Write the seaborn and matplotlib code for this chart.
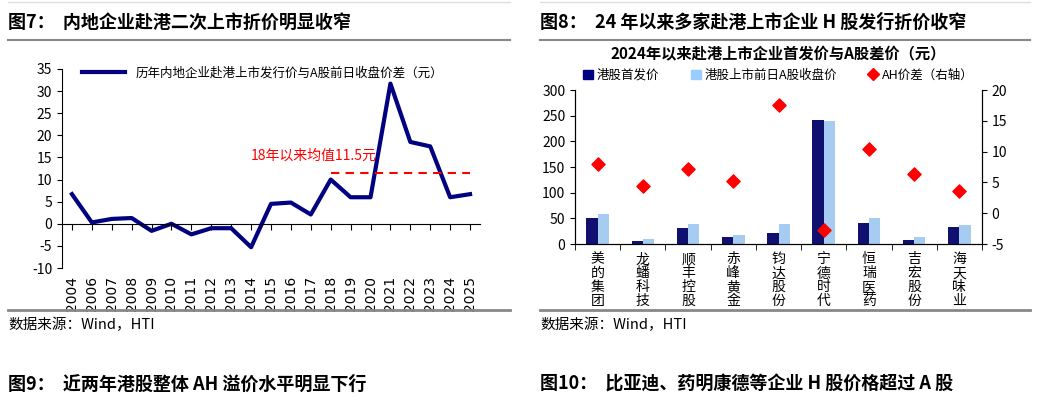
import matplotlib
matplotlib.use("Agg")
import matplotlib.pyplot as plt
import matplotlib.transforms as mtrans
from matplotlib.lines import Line2D
from matplotlib.patches import Patch
import pandas as pd
import seaborn as sns

plt.rcParams["font.family"] = ["Noto Sans CJK SC", "DejaVu Sans"]
plt.rcParams["axes.unicode_minus"] = False

# left panel data
years = ["2004", "2006", "2007", "2008", "2009", "2010", "2011", "2012", "2013", "2014", "2015",
         "2016", "2017", "2018", "2019", "2020", "2021", "2022", "2023", "2024", "2025"]
spread = [6.7, 0.3, 1.1, 1.3, -1.6, 0.0, -2.4, -1.0, -1.0, -5.3, 4.5,
          4.8, 2.1, 10.0, 6.0, 6.0, 31.7, 18.5, 17.5, 6.0, 6.7]
avg_since_2018 = 11.5

# right panel data
companies = ["美的集团", "龙蟠科技", "顺丰控股", "赤峰黄金", "钧达股份", "宁德时代", "恒瑞医药", "吉宏股份", "海天味业"]
h_price = [50, 5, 32, 13, 21, 241, 41, 7, 33]
a_close = [58, 9, 39, 17, 38, 239, 51, 13, 37]
ah_diff = [8.0, 4.4, 7.2, 5.2, 17.6, -2.7, 10.5, 6.3, 3.6]

NAVY = "#000080"
LIGHT = "#99ccff"
RED = "#ff0000"

fig = plt.figure(figsize=(10.37, 4.11), dpi=100)
W, H = 1037, 411

# titles and rules
fig.text(8 / W, 1 - 22 / H, "图7：  内地企业赴港二次上市折价明显收窄", fontsize=13, fontweight="bold", va="center")
fig.text(540 / W, 1 - 22 / H, "图8：  24 年以来多家赴港上市企业 H 股发行折价收窄", fontsize=13, fontweight="bold", va="center")
fig.text(8 / W, 1 - 384 / H, "图9：  近两年港股整体 AH 溢价水平明显下行", fontsize=13, fontweight="bold", va="center")
fig.text(540 / W, 1 - 384 / H, "图10：  比亚迪、药明康德等企业 H 股价格超过 A 股", fontsize=13, fontweight="bold", va="center")
fig.text(8 / W, 1 - 325 / H, "数据来源：Wind，HTI", fontsize=10.5, va="center")
fig.text(540 / W, 1 - 325 / H, "数据来源：Wind，HTI", fontsize=10.5, va="center")
for x0, x1 in [(8, 510), (540, 1030)]:
    fig.add_artist(Line2D([x0 / W, x1 / W], [1 - 40 / H] * 2, color="#888888", lw=1.5))
    fig.add_artist(Line2D([x0 / W, x1 / W], [1 - 310 / H] * 2, color="#888888", lw=2))
    fig.add_artist(Line2D([x0 / W, x1 / W], [1 - 2 / H] * 2, color="#dddddd", lw=1))

# ---- left chart ----
ax = fig.add_axes([62 / W, 1 - 268 / H, 418 / W, 199 / H])
df = pd.DataFrame({"year": years, "spread": spread})
sns.lineplot(data=df, x="year", y="spread", ax=ax, color=NAVY, lw=3,
             label="历年内地企业赴港上市发行价与A股前日收盘价差（元）")
ax.set_ylim(-10, 35)
ax.set_yticks(range(-10, 36, 5))
ax.set_xlim(-0.5, len(years) - 0.5)
ax.set_xlabel("")
ax.set_ylabel("")
for s in ["top", "right"]:
    ax.spines[s].set_visible(False)
ax.spines["bottom"].set_position(("data", 0))
ax.tick_params(axis="x", labelbottom=False, direction="out", length=4)
ax.tick_params(axis="y", labelsize=10)
tr = mtrans.blended_transform_factory(ax.transData, ax.transAxes)
for i, y in enumerate(years):
    ax.text(i, -0.04, y, rotation=90, ha="center", va="top", fontsize=10, transform=tr,
            fontfamily="DejaVu Sans")
i18, i25 = years.index("2018"), years.index("2025")
ax.hlines(avg_since_2018, i18, i25, colors=RED, linestyles=(0, (4, 3)), lw=1.5)
ax.text(i18 - 4, avg_since_2018 + 4, "18年以来均值11.5元", color=RED, fontsize=10, va="center")
leg = ax.legend(loc="upper left", bbox_to_anchor=(0.02, 1.07), frameon=False, fontsize=9,
                handlelength=3.5)

# ---- right chart ----
ax2 = fig.add_axes([575 / W, 1 - 244 / H, 407 / W, 154 / H])
dfl = pd.DataFrame({"company": companies * 2,
                    "series": ["港股首发价"] * len(companies) + ["港股上市前日A股收盘价"] * len(companies),
                    "price": h_price + a_close})
sns.barplot(data=dfl, x="company", y="price", hue="series", palette=[NAVY, LIGHT], ax=ax2,
            width=0.5, legend=False)
ax2.set_ylim(0, 300)
ax2.set_yticks(range(0, 301, 50))
ax2.set_xlim(-0.5, len(companies) - 0.5)
ax2.set_xticks(range(len(companies)))
ax2.set_xticklabels(["\n".join(c) for c in companies], fontsize=10, linespacing=1.0)
ax2.set_xticks([i + 0.5 for i in range(-1, len(companies))], minor=True)
ax2.tick_params(axis="x", which="major", length=0, pad=6)
ax2.tick_params(axis="x", which="minor", length=4)
ax2.set_xlabel("")
ax2.set_ylabel("")
ax2.spines["top"].set_visible(False)
ax3 = ax2.twinx()
ax3.scatter(range(len(companies)), ah_diff, marker="D", color=RED, s=45, zorder=5)
ax3.set_ylim(-5, 20)
ax3.set_yticks(range(-5, 21, 5))
ax3.spines["top"].set_visible(False)
ax2.tick_params(axis="y", labelsize=10)
ax3.tick_params(axis="y", labelsize=10)
ax2.set_title("2024年以来赴港上市企业首发价与A股差价（元）", fontsize=11, fontweight="bold", pad=22)
handles = [Patch(color=NAVY), Patch(color=LIGHT),
           Line2D([], [], marker="D", color=RED, ls="", markersize=6)]
ax2.legend(handles, ["港股首发价", "港股上市前日A股收盘价", "AH价差（右轴）"], loc="lower center",
           bbox_to_anchor=(0.5, 0.98), ncol=3, frameon=False, fontsize=9, handlelength=0.8,
           handletextpad=0.3, columnspacing=2.5)

fig.savefig("out.png", dpi=100)
